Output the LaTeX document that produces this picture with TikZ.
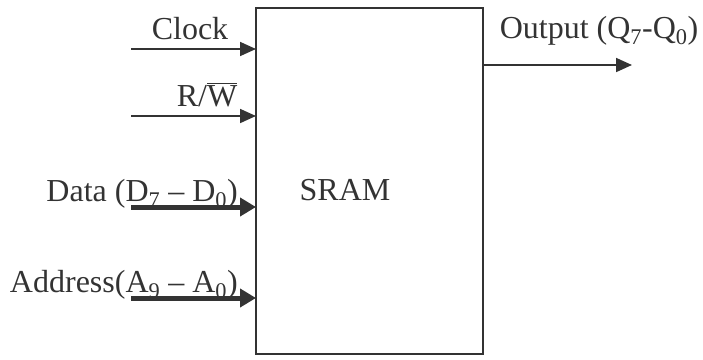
\documentclass[tikz,border=0pt]{standalone}
\usepackage{fontspec}
\setmainfont{Liberation Serif}
\usetikzlibrary{arrows.meta}
\begin{document}
\begin{tikzpicture}[x=1pt,y=-1pt,
  lbl/.style={font=\fontsize{32}{34}\selectfont, inner sep=0pt, text=black!80},
  thin/.style={draw=black!80, line width=1.8pt, -{Triangle[length=16pt,width=14pt]}},
  thick/.style={draw=black!80, line width=5pt, -{Triangle[length=16pt,width=18pt]}},
  blk/.style={draw=black!80, line width=2pt, minimum width=227pt, minimum height=346pt, inner sep=0pt}]
\useasboundingbox (0,0) rectangle (703,359);
\node[blk] (sram) at (369.5,181) {};
\node[lbl] (sramt) at (345,190) {SRAM};
% inputs
\coordinate (c0) at (131,49);
\coordinate (c1) at (256,49);
\draw[thin] (c0) -- (c1);
\node[lbl, anchor=base] (clk) at (190,39) {Clock};
\coordinate (r0) at (131,116);
\coordinate (r1) at (256,116);
\draw[thin] (r0) -- (r1);
\node[lbl, anchor=base] (rw) at (207,106) {R/$\overline{\hbox{W}}$};
\coordinate (d0) at (131,207);
\coordinate (d1) at (256,207);
\draw[thick] (d0) -- (d1);
\node[lbl, anchor=base east] (data) at (238,201) {Data (D\textsubscript{7} – D\textsubscript{0})};
\coordinate (a0) at (131,298);
\coordinate (a1) at (256,298);
\draw[thick] (a0) -- (a1);
\node[lbl, anchor=base east] (addr) at (238,292) {Address(A\textsubscript{9} – A\textsubscript{0})};
% output
\coordinate (o0) at (483,65);
\coordinate (o1) at (632,65);
\draw[thin] (o0) -- (o1);
\node[lbl, anchor=base] (out) at (599,38) {Output (Q\textsubscript{7}-Q\textsubscript{0})};
\end{tikzpicture}
\end{document}
